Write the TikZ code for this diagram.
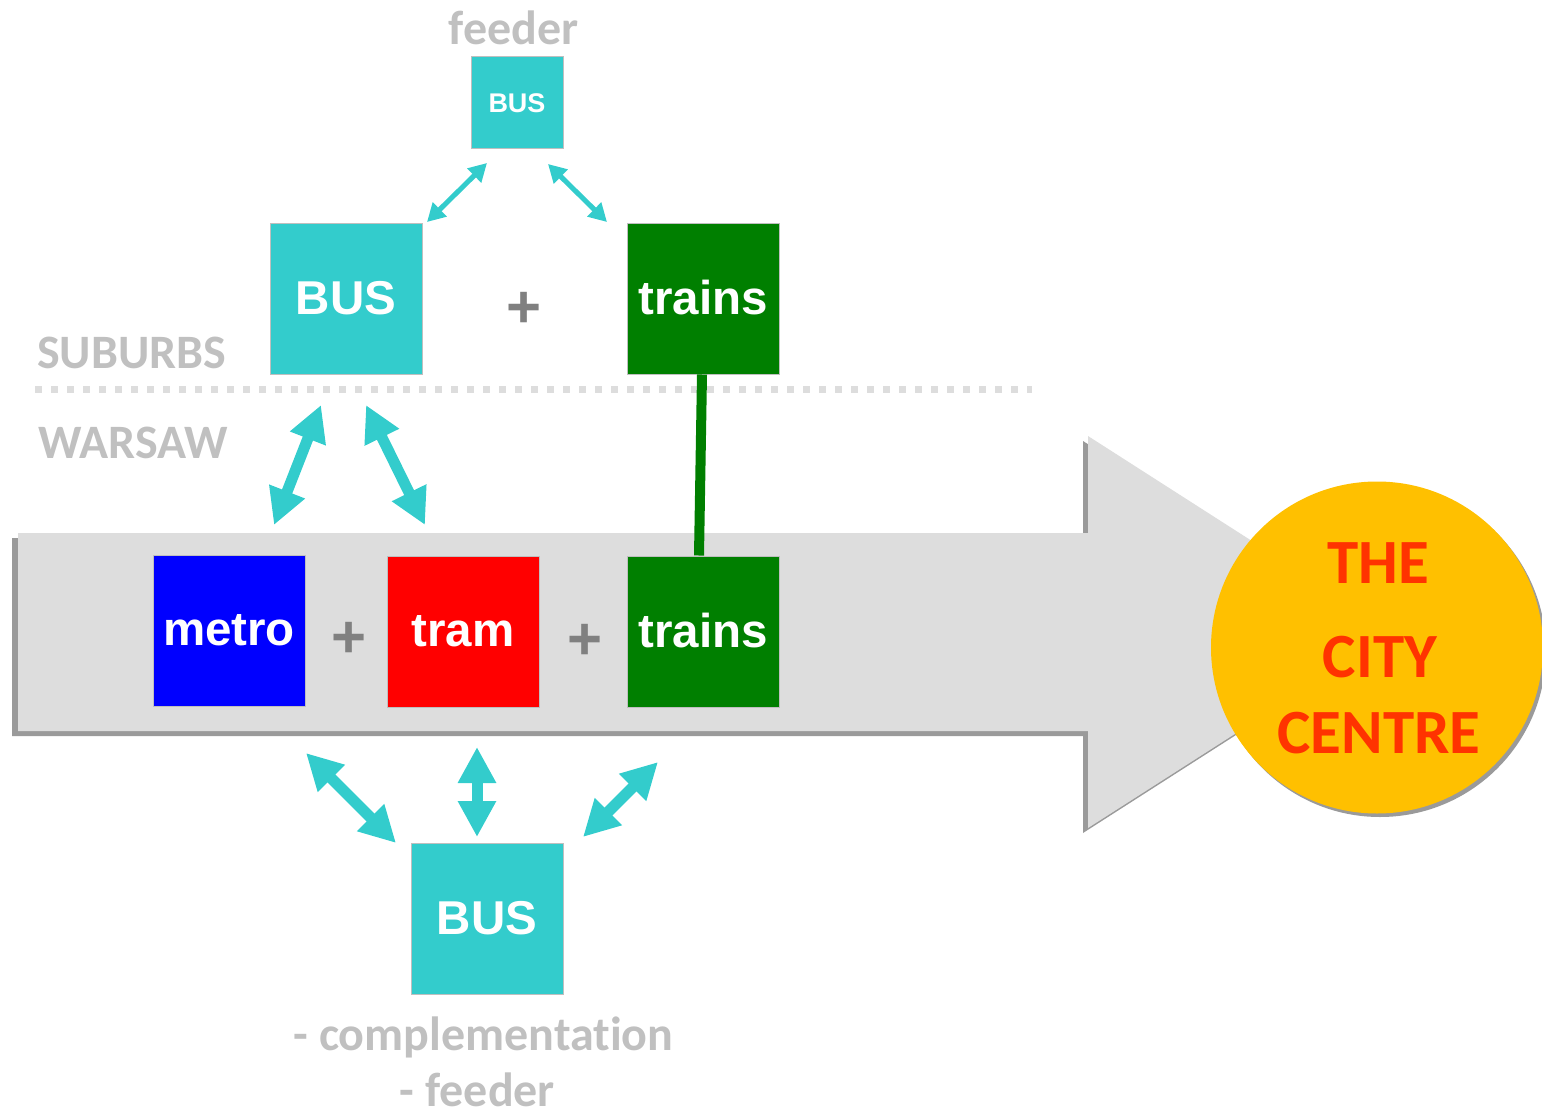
\documentclass[tikz,border=0pt]{standalone}
\usepackage{fontspec}
\usetikzlibrary{arrows.meta}
\newfontfamily\calf{Carlito}[Ligatures=CommonOff]
\newfontfamily\arif{Liberation Sans}
\definecolor{cyanbox}{HTML}{33CCCC}
\definecolor{greenbox}{HTML}{007F00}
\definecolor{bluebox}{HTML}{0000FF}
\definecolor{redbox}{HTML}{FF0000}
\definecolor{lightgrey}{HTML}{DDDDDD}
\definecolor{shadowgrey}{HTML}{9A9A9A}
\definecolor{labelgrey}{HTML}{C0C0C0}
\definecolor{plusgrey}{HTML}{808080}
\definecolor{centrefill}{HTML}{FFC000}
\definecolor{centretext}{HTML}{FF3300}
\begin{document}
\begin{tikzpicture}[x=1pt,y=-1pt,
  modebox/.style={draw=black!25, line width=1pt, inner sep=0pt, minimum width=152pt, minimum height=151pt,
    text=white, font=\arif\bfseries\fontsize{47.5}{50}\selectfont},
  smallbox/.style={modebox, minimum width=92pt, minimum height=92pt, font=\arif\bfseries\fontsize{27}{30}\selectfont},
  greylabel/.style={inner sep=0pt, text=labelgrey, font=\calf\bfseries\fontsize{48}{52}\selectfont},
  pluslabel/.style={inner sep=0pt, text=plusgrey, font=\arif\bfseries\fontsize{60}{64}\selectfont},
  centrelabel/.style={inner sep=0pt, anchor=base, text=centretext, font=\calf\bfseries\fontsize{63}{66}\selectfont},
  thickarr/.style={draw=cyanbox, line width=11pt, {Triangle[width=36pt,length=36pt]}-{Triangle[width=36pt,length=36pt]}},
  thinarr/.style={draw=cyanbox, line width=5pt, {Triangle[width=19pt,length=18pt]}-{Triangle[width=19pt,length=18pt]}},
  greenline/.style={draw=greenbox, line width=10pt}
]
\useasboundingbox (0,0) rectangle (1542,1113);

% big arrow with shadow
\fill[shadowgrey] (12,538) -- (1083,538) -- (1083,441) -- (1389,637) -- (1083,833) -- (1083,736) -- (12,736) -- cycle;
\fill[lightgrey] (18,533) -- (1088,533) -- (1088,436) -- (1394,632) -- (1088,828) -- (1088,731) -- (18,731) -- cycle;

% dotted border line
\draw[lightgrey, line width=7pt, dash pattern=on 7pt off 9pt] (35,389) -- (1032,389);

% city centre
\fill[shadowgrey] (1380,651) circle[radius=166];
\node[circle, fill=centrefill, inner sep=0pt, minimum size=332pt] (centre) at (1377,647.5) {};
\node[centrelabel] (the) at (1378,583) {THE};
\node[centrelabel] (city) at (1380,677) {CITY};
\node[centrelabel] (centretxt) at (1379,753) {CENTRE};

% boxes
\node[smallbox, fill=cyanbox] (busF) at (517,103) {BUS};
\node[modebox, fill=cyanbox] (busT) at (346,298.5) {\raisebox{1.5pt}{BUS}};
\node[modebox, fill=greenbox] (trT) at (703,298.5) {\raisebox{2pt}{trains}};
\node[modebox, fill=bluebox] (metro) at (229,630.5) {metro};
\node[modebox, fill=redbox] (tram) at (463,631.5) {tram};
\node[modebox, fill=greenbox] (trB) at (703,631.5) {\raisebox{2pt}{trains}};
\node[modebox, fill=cyanbox] (busB) at (487,918.5) {BUS};

% plus signs
\node[pluslabel] (p1) at (524,310) {+};
\node[pluslabel] (p2) at (349,640) {+};
\node[pluslabel] (p3) at (585,642) {+};

% labels
\node[greylabel, anchor=base] (feederT) at (513.5,45) {feeder};
\node[greylabel, anchor=base west] (suburbs) at (37,368) {SUBURBS};
\node[greylabel, anchor=base west] (warsaw) at (38,458) {WARSAW};
\node[greylabel, anchor=base] (compl) at (483.5,1050) {- complementation};
\node[greylabel, anchor=base] (feederB) at (477.5,1106) {- feeder};

% green connection
\draw[greenline] ([xshift=-1pt]trT.south) -- ([xshift=-4pt]trB.north);

% arrow end points
\coordinate (a1s) at (487,163); \coordinate (a1e) at (427,222);
\coordinate (a2s) at (548,164); \coordinate (a2e) at (607,222);
\coordinate (a3s) at (321,405); \coordinate (a3e) at (274,525);
\coordinate (a4s) at (366,405); \coordinate (a4e) at (425,525);
\coordinate (a5s) at (306,753); \coordinate (a5e) at (396,843);
\coordinate (a6s) at (477,747); \coordinate (a6e) at (477,837);
\coordinate (a7s) at (658,762); \coordinate (a7e) at (583,837);

\draw[thinarr] (a1s) -- (a1e);
\draw[thinarr] (a2s) -- (a2e);
\draw[thickarr] (a3s) -- (a3e);
\draw[thickarr] (a4s) -- (a4e);
\draw[thickarr] (a5s) -- (a5e);
\draw[thickarr] (a6s) -- (a6e);
\draw[thickarr] (a7s) -- (a7e);
\end{tikzpicture}
\end{document}
